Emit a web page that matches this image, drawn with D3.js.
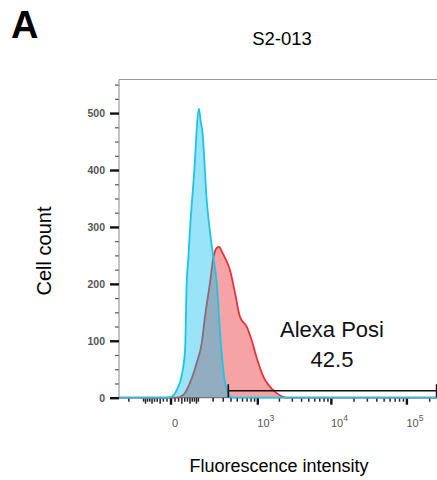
<!DOCTYPE html>
<html>
<head>
<meta charset="utf-8">
<script src="https://cdn.jsdelivr.net/npm/d3@7"></script>
<style>
	body { margin: 0; background: #fff; }
	text { font-family: Arial, "Liberation Sans", sans-serif; }
</style>
</head>
<body>
<div id="chart-area"></div>
<script>
// Histogram values (fluorescence intensity, cell count)
var blueIntensity = [-297, -12, 2, 15, 30, 41, 47, 53, 60, 78, 103, 113, 122, 151, 197, 232, 265, 301, 321, 362, 415, 262144];
var blueCount     = [0, 0, 2, 14, 40, 84, 202, 242, 295, 392, 508, 485, 470, 347, 254, 202, 114, 49, 26, 8, 0, 0];

var redIntensity = [-297, 13, 35, 60, 91, 119, 139, 175, 202, 232, 257, 283, 309, 386, 462, 550, 692, 818, 965, 1197, 1484, 1837, 2517, 262144];
var redCount     = [0, 0, 5, 26, 61, 96, 142, 202, 246, 263, 265, 257, 249, 224, 184, 142, 125, 101, 70, 37, 19, 8, 0, 0];

// Axis ticks and labels
var yTicks = [0, 100, 200, 300, 400, 500];
var xMajor = [0, 1000, 10000, 100000];
var xLabels = [["0", ""], ["10", "3"], ["10", "4"], ["10", "5"]];

// Gate
var gateRange = [362, 262144];
var gateName = "Alexa Posi";
var gateValue = "42.5";

var margin = {top: 79.5, left: 119};
var width = 319.6;
var height = 318.2;

var svg = d3.select("#chart-area").append("svg")
	.attr("width", 437)
	.attr("height", 480);

var g = svg.append("g")
	.attr("transform", "translate(" + margin.left + ", " + margin.top + ")");

// Scales (biexponential-like x axis)
var x = d3.scaleSymlog()
	.constant(77)
	.domain([-297, 262144])
	.range([0, width]);

var y = d3.scaleLinear()
	.domain([0, 559])
	.range([height, 0]);

// Frame
g.append("line")
	.attr("x1", 0).attr("x2", width)
	.attr("y1", 0).attr("y2", 0)
	.attr("stroke", "#999")
	.attr("stroke-width", 1);

// Y axis: minor then major
var yMinor = d3.range(0, 551, 25).filter((v) => v % 100 !== 0);
g.append("g")
	.call(d3.axisLeft(y).tickValues(yMinor).tickSize(4).tickFormat(""))
	.call((a) => a.select(".domain").remove())
	.selectAll("line").attr("stroke", "#555").attr("stroke-width", 1.2);

var yAxis = g.append("g")
	.attr("class", "y axis")
	.call(d3.axisLeft(y).tickValues(yTicks).tickSize(9).tickPadding(5));
yAxis.select(".domain")
	.attr("d", "M0,0V" + height)
	.attr("stroke", "#888");
yAxis.selectAll(".tick line").attr("stroke", "#111").attr("stroke-width", 2.4);
yAxis.selectAll("text")
	.attr("font-size", "10.5px")
	.attr("font-weight", "bold")
	.attr("fill", "#555")
	.attr("font-family", "Arial, 'Liberation Sans', sans-serif");

// X axis minor ticks
var xMinor = [];
[-200, -100].forEach((v) => xMinor.push({v: v, s: 4}));
for (var k = -90; k <= 90; k += 10) { if (k !== 0) xMinor.push({v: k, s: (k % 30 === 0 ? 6 : 4)}); }
[100, 1000, 10000, 100000].forEach((dec) => {
	for (var m = (dec === 100 ? 1 : 2); m <= 9; m++) {
		var v = m * dec;
		if (v < 262144) xMinor.push({v: v, s: 4});
	}
});
g.append("line")
	.attr("x1", 0).attr("x2", width)
	.attr("y1", height).attr("y2", height)
	.attr("stroke", "#555");
g.selectAll(".xminor").data(xMinor).enter()
	.append("line")
		.attr("class", "xminor")
		.attr("x1", (d) => x(d.v)).attr("x2", (d) => x(d.v))
		.attr("y1", height).attr("y2", (d) => height + d.s)
		.attr("stroke", "#222")
		.attr("stroke-width", 1.5);
g.selectAll(".xmajor").data(xMajor).enter()
	.append("line")
		.attr("class", "xmajor")
		.attr("x1", (d) => x(d)).attr("x2", (d) => x(d))
		.attr("y1", height).attr("y2", height + 7)
		.attr("stroke", "#111")
		.attr("stroke-width", 2.4);

var xl = g.selectAll(".xlabel").data(xMajor).enter()
	.append("text")
		.attr("class", "xlabel")
		.attr("x", (d, i) => x(d) + (i === 0 ? 4 : 8))
		.attr("y", height + 29)
		.attr("text-anchor", "middle")
		.attr("font-size", "11px")
		.attr("fill", "#555");
xl.append("tspan").text((d, i) => xLabels[i][0]);
xl.append("tspan")
	.attr("dy", "-6")
	.attr("font-size", "8.5px")
	.text((d, i) => xLabels[i][1]);

// Histograms
var area = d3.area()
	.x((d) => x(d[0]))
	.y0(height)
	.y1((d) => y(d[1]))
	.curve(d3.curveMonotoneX);
var line = area.lineY1();

var redData = redIntensity.map((v, i) => [v, redCount[i]]);
var blueData = blueIntensity.map((v, i) => [v, blueCount[i]]);

g.append("path").datum(redData)
	.attr("d", area)
	.attr("fill", "rgba(236, 52, 58, 0.45)");
g.append("path").datum(redData)
	.attr("d", line)
	.attr("fill", "none")
	.attr("stroke", "#e8323a")
	.attr("stroke-width", 1.8);

g.append("path").datum(blueData)
	.attr("d", area)
	.attr("fill", "rgba(0, 188, 232, 0.4)");
g.append("path").datum(blueData)
	.attr("d", line)
	.attr("fill", "none")
	.attr("stroke", "#1cc4ea")
	.attr("stroke-width", 1.8);

// Gate
var gy = height - 7;
g.append("line")
	.attr("x1", x(gateRange[0])).attr("x2", x(gateRange[1]) - 2)
	.attr("y1", gy).attr("y2", gy)
	.attr("stroke", "#111").attr("stroke-width", 1.6);
[gateRange[0], gateRange[1]].forEach((v, i) => {
	g.append("line")
		.attr("x1", x(v) - (i ? 2 : 0)).attr("x2", x(v) - (i ? 2 : 0))
		.attr("y1", gy - 6.5).attr("y2", gy + 6.5)
		.attr("stroke", "#111").attr("stroke-width", 1.6);
});
g.append("text")
	.attr("x", 213).attr("y", 257)
	.attr("text-anchor", "middle")
	.attr("font-size", "22px")
	.attr("fill", "#111")
	.text(gateName);
g.append("text")
	.attr("x", 213).attr("y", 287)
	.attr("text-anchor", "middle")
	.attr("font-size", "22px")
	.attr("fill", "#111")
	.text(gateValue);

// Titles and labels
svg.append("text")
	.attr("x", 11).attr("y", 38)
	.attr("font-size", "38px")
	.attr("font-weight", "bold")
	.text("A");

svg.append("text")
	.attr("x", 282).attr("y", 45)
	.attr("text-anchor", "middle")
	.attr("font-size", "18.5px")
	.text("S2-013");

svg.append("text")
	.attr("x", -251).attr("y", 51)
	.attr("text-anchor", "middle")
	.attr("font-size", "20px")
	.attr("transform", "rotate(-90)")
	.text("Cell count");

svg.append("text")
	.attr("x", 279).attr("y", 472)
	.attr("text-anchor", "middle")
	.attr("font-size", "18px")
	.text("Fluorescence intensity");
</script>
</body>
</html>
